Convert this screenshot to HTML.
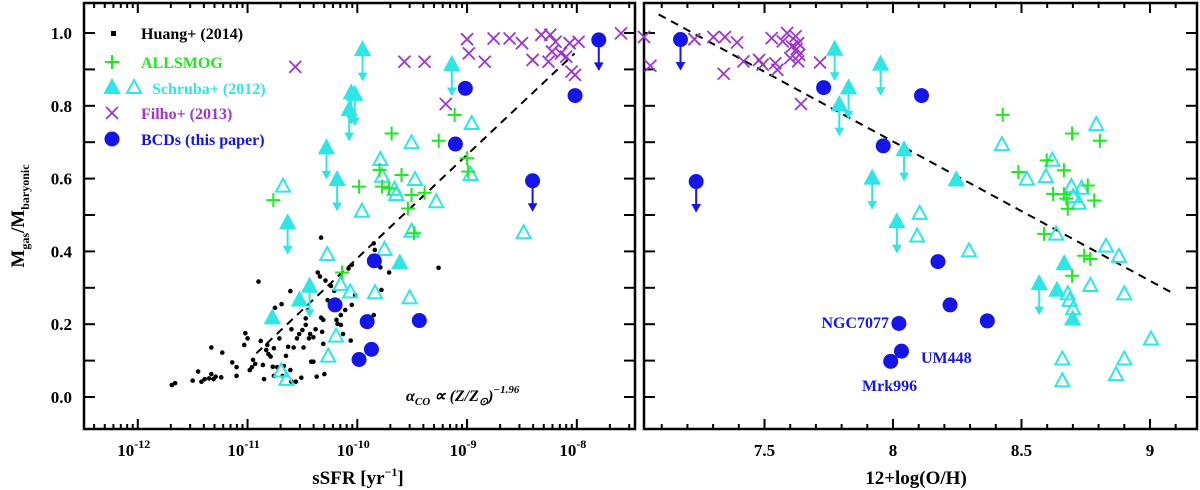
<!DOCTYPE html>
<html><head><meta charset="utf-8"><style>
body{margin:0;background:#fff;width:1200px;height:490px;overflow:hidden}
svg{display:block}
text{font-family:"Liberation Serif",serif;font-weight:bold}
</style></head><body>
<svg id="c" width="1200" height="490"></svg>
<script>
// ---- Left panel data (log sSFR, gas fraction) ----
const huangX=[-11.69,-11.66,-11.50,-11.45,-11.42,-11.39,-11.35,-11.33,-11.31,-11.29,-11.24,-11.33,-11.23,-11.14,-11.10,-11.10,-11.02,-11.00,-11.03,-10.98,-10.96,-10.95,-10.93,-10.90,-10.88,-10.86,-10.85,-10.83,-10.82,-10.81,-10.79,-10.76,-10.77,-10.76,-10.75,-10.73,-10.71,-10.69,-10.68,-10.67,-10.65,-10.63,-10.61,-10.61,-10.60,-10.60,-10.58,-10.56,-10.55,-10.53,-10.51,-10.50,-10.49,-10.47,-10.47,-10.45,-10.44,-10.43,-10.42,-10.40,-10.40,-10.38,-10.37,-10.36,-10.34,-10.33,-10.32,-10.31,-10.31,-10.30,-10.29,-10.27,-10.24,-10.23,-10.21,-10.19,-10.18,-10.15,-10.15,-10.13,-10.11,-10.08,-10.06,-10.05,-10.05,-10.02,-9.85,-9.85,-9.84,-9.79,-9.78,-9.71,-9.26,-10.33];
const huangY=[0.033,0.038,0.045,0.070,0.042,0.049,0.051,0.063,0.049,0.056,0.054,0.136,0.122,0.095,0.082,0.058,0.175,0.161,0.143,0.074,0.082,0.102,0.091,0.317,0.154,0.088,0.049,0.129,0.143,0.118,0.111,0.134,0.083,0.058,0.245,0.082,0.161,0.255,0.058,0.085,0.113,0.138,0.291,0.074,0.042,0.186,0.136,0.042,0.161,0.173,0.053,0.184,0.136,0.198,0.216,0.239,0.161,0.173,0.097,0.164,0.097,0.186,0.056,0.342,0.331,0.218,0.179,0.212,0.146,0.063,0.320,0.266,0.305,0.253,0.292,0.212,0.201,0.225,0.198,0.173,0.239,0.353,0.155,0.253,0.363,0.280,0.422,0.225,0.404,0.356,0.294,0.342,0.355,0.438];
const filhoLX=[-10.565,-9.571,-9.387,-9.194,-9.0,-8.984,-8.839,-8.758,-8.613,-8.5,-8.403,-8.323,-8.258,-8.242,-8.194,-8.226,-8.145,-8.097,-8.065,-8.048,-8.016,-7.984,-7.597];
const filhoLY=[0.907,0.921,0.921,0.805,0.983,0.944,0.921,0.985,0.985,0.972,0.926,0.995,0.921,0.995,0.976,0.949,0.944,0.935,0.972,0.894,0.885,0.976,0.999];
const bcdLX=[-9.016,-9.106,-9.845,-10.203,-9.910,-9.435,-9.871,-9.984,-8.016];
const bcdLY=[0.848,0.695,0.374,0.253,0.207,0.210,0.131,0.103,0.828];
const bcdLimLX=[-8.403,-7.8];
const bcdLimLY=[0.594,0.981];
const schFillArrLX=[-9.952,-10.055,-10.023,-10.074,-9.139,-10.281,-10.184,-10.635,-10.435];
const schFillArrLY=[0.953,0.834,0.830,0.788,0.912,0.683,0.596,0.477,0.303];
const schFillLX=[-10.526,-10.774,-9.613];
const schFillLY=[0.265,0.216,0.367];
const schOpenLX=[-10.677,-9.79,-9.506,-8.958,-8.968,-9.474,-9.774,-9.661,-9.645,-9.281,-9.958,-9.506,-8.484,-9.752,-10.274,-10.152,-10.065,-9.839,-9.523,-10.194,-10.265,-10.694,-10.645];
const schOpenLY=[0.578,0.651,0.697,0.75,0.61,0.596,0.605,0.569,0.555,0.535,0.509,0.454,0.45,0.404,0.39,0.308,0.287,0.285,0.271,0.166,0.111,0.07,0.047];
const allLX=[-10.765,-9.984,-9.797,-9.687,-9.597,-9.774,-9.71,-9.506,-9.387,-9.539,-9.258,-9.113,-9.0,-8.99,-9.484,-10.139];
const allLY=[0.541,0.578,0.624,0.724,0.61,0.578,0.573,0.555,0.561,0.518,0.704,0.775,0.656,0.619,0.45,0.342];
const lineLX=[-10.92,-8.02], lineLY=[0.12,0.944];
const leftTicks=[-12,-11,-10,-9,-8];
// ---- Right panel data (12+log(O/H), gas fraction) ----
const filhoRX=[7.031,7.056,7.227,7.301,7.346,7.393,7.341,7.418,7.479,7.493,7.528,7.542,7.550,7.571,7.588,7.6,7.621,7.631,7.625,7.635,7.631,7.642,7.716,7.607];
const filhoRY=[0.989,0.91,0.983,0.989,0.989,0.974,0.888,0.922,0.926,0.913,0.986,0.917,0.899,0.977,1.0,0.931,0.991,0.972,0.956,0.94,0.922,0.805,0.919,0.963];
const bcdRX=[7.730,8.111,7.962,8.175,8.222,8.367,8.023,8.033,7.991];
const bcdRY=[0.85,0.828,0.69,0.372,0.253,0.209,0.202,0.126,0.098];
const bcdLimRX=[7.173,7.234];
const bcdLimRY=[0.982,0.592];
const schFillArrRX=[7.773,7.827,7.791,7.952,8.043,7.919,8.015,8.569];
const schFillArrRY=[0.954,0.848,0.802,0.913,0.678,0.6,0.48,0.31];
const schFillRX=[8.246,8.666,8.638,8.699];
const schFillRY=[0.595,0.365,0.292,0.213];
const schOpenRX=[8.791,8.424,8.620,8.521,8.595,8.694,8.734,8.723,8.701,8.104,8.094,8.296,8.635,8.829,8.879,8.768,8.9,8.68,8.687,8.701,9.004,8.659,8.9,8.868,8.659];
const schOpenRY=[0.747,0.692,0.649,0.597,0.604,0.577,0.572,0.531,0.549,0.503,0.441,0.4,0.446,0.413,0.385,0.305,0.282,0.282,0.264,0.241,0.158,0.103,0.103,0.06,0.043];
const allRX=[8.427,8.697,8.805,8.598,8.488,8.665,8.758,8.623,8.665,8.675,8.783,8.68,8.588,8.744,8.768,8.697];
const allRY=[0.775,0.724,0.704,0.65,0.618,0.623,0.581,0.558,0.557,0.545,0.54,0.517,0.448,0.388,0.379,0.333];
const lineRX=[7.088,9.10], lineRY=[1.051,0.281];
const rightTicks=[7.5,8,8.5,9];
const rightTickLabels=["7.5","8","8.5","9"];
const yTicks=[0,0.2,0.4,0.6,0.8,1.0];
const yTickLabels=["0.0","0.2","0.4","0.6","0.8","1.0"];

const NS="http://www.w3.org/2000/svg";
const svg=document.getElementById('c');
const GREEN="#1ee81e",CYAN="#2ee6e6",PURPLE="#9a38cc",BLUE="#1515e8";
function el(tag,attrs,parent){const e=document.createElementNS(NS,tag);for(const k in attrs)e.setAttribute(k,attrs[k]);(parent||svg).appendChild(e);return e;}
const TOP=3,BOT=429;
function Y(v){return 397-364*v;}
const L={x0:84,x1:635,min:-12.49,max:-7.47};
const R={x0:644,x1:1197,min:7.031,max:9.183};
function X(p,v){return p.x0+(v-p.min)/(p.max-p.min)*(p.x1-p.x0);}

function frame(p,name){
  const g=el('g',{});
  
  
  el('rect',{x:p.x0,y:TOP,width:p.x1-p.x0,height:BOT-TOP,fill:'none',stroke:'#000','stroke-width':2.5},g);
  for(let v=-0.1;v<=1.08;v+=0.1){const y=Y(v);if(y<TOP+2||y>BOT-2)continue;
    el('line',{x1:p.x0,x2:p.x0+11,y1:y,y2:y,stroke:'#000','stroke-width':2},g);
    el('line',{x1:p.x1-11,x2:p.x1,y1:y,y2:y,stroke:'#000','stroke-width':2},g);}
  return g;
}
const gl=frame(L,'left-panel');
const gr=frame(R,'right-panel');
for(let d=-13;d<=-7;d++){for(let m=1;m<10;m++){const v=d+Math.log10(m);if(v<L.min||v>L.max)continue;const x=X(L,v);const len=m==1?10:5;
  el('line',{x1:x,x2:x,y1:BOT,y2:BOT-len,stroke:'#000','stroke-width':2},gl);
  el('line',{x1:x,x2:x,y1:TOP,y2:TOP+len,stroke:'#000','stroke-width':2},gl);}}
leftTicks.forEach(t=>{const tx=el('text',{x:X(L,t)-4,y:456,'font-size':17,'text-anchor':'middle'});
  
  
  tx.innerHTML='10<tspan dy="-8" font-size="12">'+t+'</tspan>';});
for(let k=70;k<=92;k++){const v=k/10;if(v<R.min||v>R.max)continue;const x=X(R,v);const len=(k%5==0)?10:5;
  el('line',{x1:x,x2:x,y1:BOT,y2:BOT-len,stroke:'#000','stroke-width':2},gr);
  el('line',{x1:x,x2:x,y1:TOP,y2:TOP+len,stroke:'#000','stroke-width':2},gr);}
rightTicks.forEach((t,i)=>{const tx=el('text',{x:X(R,t),y:456,'font-size':17,'text-anchor':'middle','font-family':'Liberation Sans','font-weight':'normal'});
  
  
  tx.textContent=rightTickLabels[i];});
yTicks.forEach((t,i)=>{const tx=el('text',{x:72,y:Y(t)+6,'font-size':17,'text-anchor':'end','font-family':'Liberation Sans','font-weight':'normal'});
  
  
  tx.textContent=yTickLabels[i];});

function dashed(p,xs,ys,name){const l=el('line',{x1:X(p,xs[0]),y1:Y(ys[0]),x2:X(p,xs[1]),y2:Y(ys[1]),stroke:'#000','stroke-width':2,'stroke-dasharray':'8,6'});
  
  }
function dot(x,y){el('circle',{cx:x,cy:y,r:2.3,fill:'#000'});}
function cross(x,y,c){el('path',{d:`M${x-7} ${y}H${x+7}M${x} ${y-7}V${y+7}`,stroke:c,'stroke-width':2,fill:'none'});}
function xmark(x,y,c){el('path',{d:`M${x-6} ${y-6}L${x+6} ${y+6}M${x+6} ${y-6}L${x-6} ${y+6}`,stroke:c,'stroke-width':1.8,fill:'none'});}
function tri(x,y,c,filled){el('path',{d:`M${x} ${y-8}L${x+7} ${y+5}L${x-7} ${y+5}Z`,stroke:c,'stroke-width':2,fill:filled?c:'none'});}
function circ(x,y){el('circle',{cx:x,cy:y,r:7.5,fill:BLUE});}
function arrow(x,y,len,c){el('line',{x1:x,y1:y,x2:x,y2:y+len,stroke:c,'stroke-width':2});el('path',{d:`M${x-4} ${y+len-7}L${x} ${y+len}L${x+4} ${y+len-7}Z`,fill:c,stroke:c,'stroke-width':1});}

function panel(p,d){
  d.sfa[0].forEach((v,i)=>{const x=X(p,v),y=Y(d.sfa[1][i]);tri(x,y,CYAN,true);arrow(x,y,30,CYAN);});
  d.sf[0].forEach((v,i)=>tri(X(p,v),Y(d.sf[1][i]),CYAN,true));
  d.so[0].forEach((v,i)=>tri(X(p,v),Y(d.so[1][i]),CYAN,false));
  d.al[0].forEach((v,i)=>cross(X(p,v),Y(d.al[1][i]),GREEN));
  d.fi[0].forEach((v,i)=>xmark(X(p,v),Y(d.fi[1][i]),PURPLE));
  d.bl[0].forEach((v,i)=>{const x=X(p,v),y=Y(d.bl[1][i]);arrow(x,y,30,BLUE);circ(x,y);});
  d.b[0].forEach((v,i)=>circ(X(p,v),Y(d.b[1][i])));
}
huangX.forEach((v,i)=>dot(X(L,v),Y(huangY[i])));
dashed(L,lineLX,lineLY,'fit-line-left');
panel(L,{sfa:[schFillArrLX,schFillArrLY],sf:[schFillLX,schFillLY],so:[schOpenLX,schOpenLY],al:[allLX,allLY],fi:[filhoLX,filhoLY],bl:[bcdLimLX,bcdLimLY],b:[bcdLX,bcdLY]});
dashed(R,lineRX,lineRY,'fit-line-right');
panel(R,{sfa:[schFillArrRX,schFillArrRY],sf:[schFillRX,schFillRY],so:[schOpenRX,schOpenRY],al:[allRX,allRY],fi:[filhoRX,filhoRY],bl:[bcdLimRX,bcdLimRY],b:[bcdRX,bcdRY]});

const lg=el('g',{});


el('rect',{x:111,y:31,width:5,height:5,fill:'#000'},lg);
el('path',{d:'M105 62H119M112 55V69',stroke:GREEN,'stroke-width':2},lg);
el('path',{d:'M112 80L119 93L105 93Z',fill:CYAN,stroke:CYAN,'stroke-width':2},lg);
el('path',{d:'M134 80L141 93L127 93Z',fill:'none',stroke:CYAN,'stroke-width':2},lg);
el('path',{d:'M106 107L118 119M118 107L106 119',stroke:PURPLE,'stroke-width':1.8},lg);
el('circle',{cx:112,cy:139,r:7.5,fill:BLUE},lg);
[['Huang+ (2014)',141,39,'#000'],['ALLSMOG',141,68,GREEN],['Schruba+ (2012)',152,94,CYAN],['Filho+ (2013)',141,119,PURPLE],['BCDs (this paper)',141,145,BLUE]].forEach(a=>{
  const t=el('text',{x:a[1],y:a[2],'font-size':16,fill:a[3]},lg);
  
  
  t.textContent=a[0];});

function label(txt,x,y,name,opts){const t=el('text',Object.assign({x:x,y:y,'font-size':16,fill:BLUE},opts||{}));
  
  
  t.innerHTML=txt;return t;}
label('NGC7077',889,328,'label-ngc7077',{'text-anchor':'end'});
label('UM448',921,363,'label-um448');
label('Mrk996',862,391,'label-mrk996');
label('α<tspan dy="4" font-size="11">CO</tspan><tspan dy="-4"> ∝ (Z/Z</tspan><tspan dy="4" font-size="11">⊙</tspan><tspan dy="-4">)</tspan><tspan dy="-8" font-size="11">−1.96</tspan>',406,401,'alpha-co-annotation',{fill:'#000','font-weight':'normal','font-style':'italic'});
label('sSFR [yr<tspan dy="-8" font-size="12">−1</tspan><tspan dy="8">]</tspan>',358,484,'x-axis-title-left',{fill:'#000','font-size':19,'text-anchor':'middle','font-weight':'normal'});
label('12+log(O/H)',916,484,'x-axis-title-right',{fill:'#000','font-size':19,'text-anchor':'middle','font-weight':'normal'});
label('M<tspan dy="5" font-size="12">gas</tspan><tspan dy="-5">/M</tspan><tspan dy="5" font-size="12">baryonic</tspan>',0,0,'y-axis-title',{fill:'#000','font-size':19,'text-anchor':'middle','font-weight':'normal',transform:'translate(24,216) rotate(-90)'});
</script>
</body></html>
